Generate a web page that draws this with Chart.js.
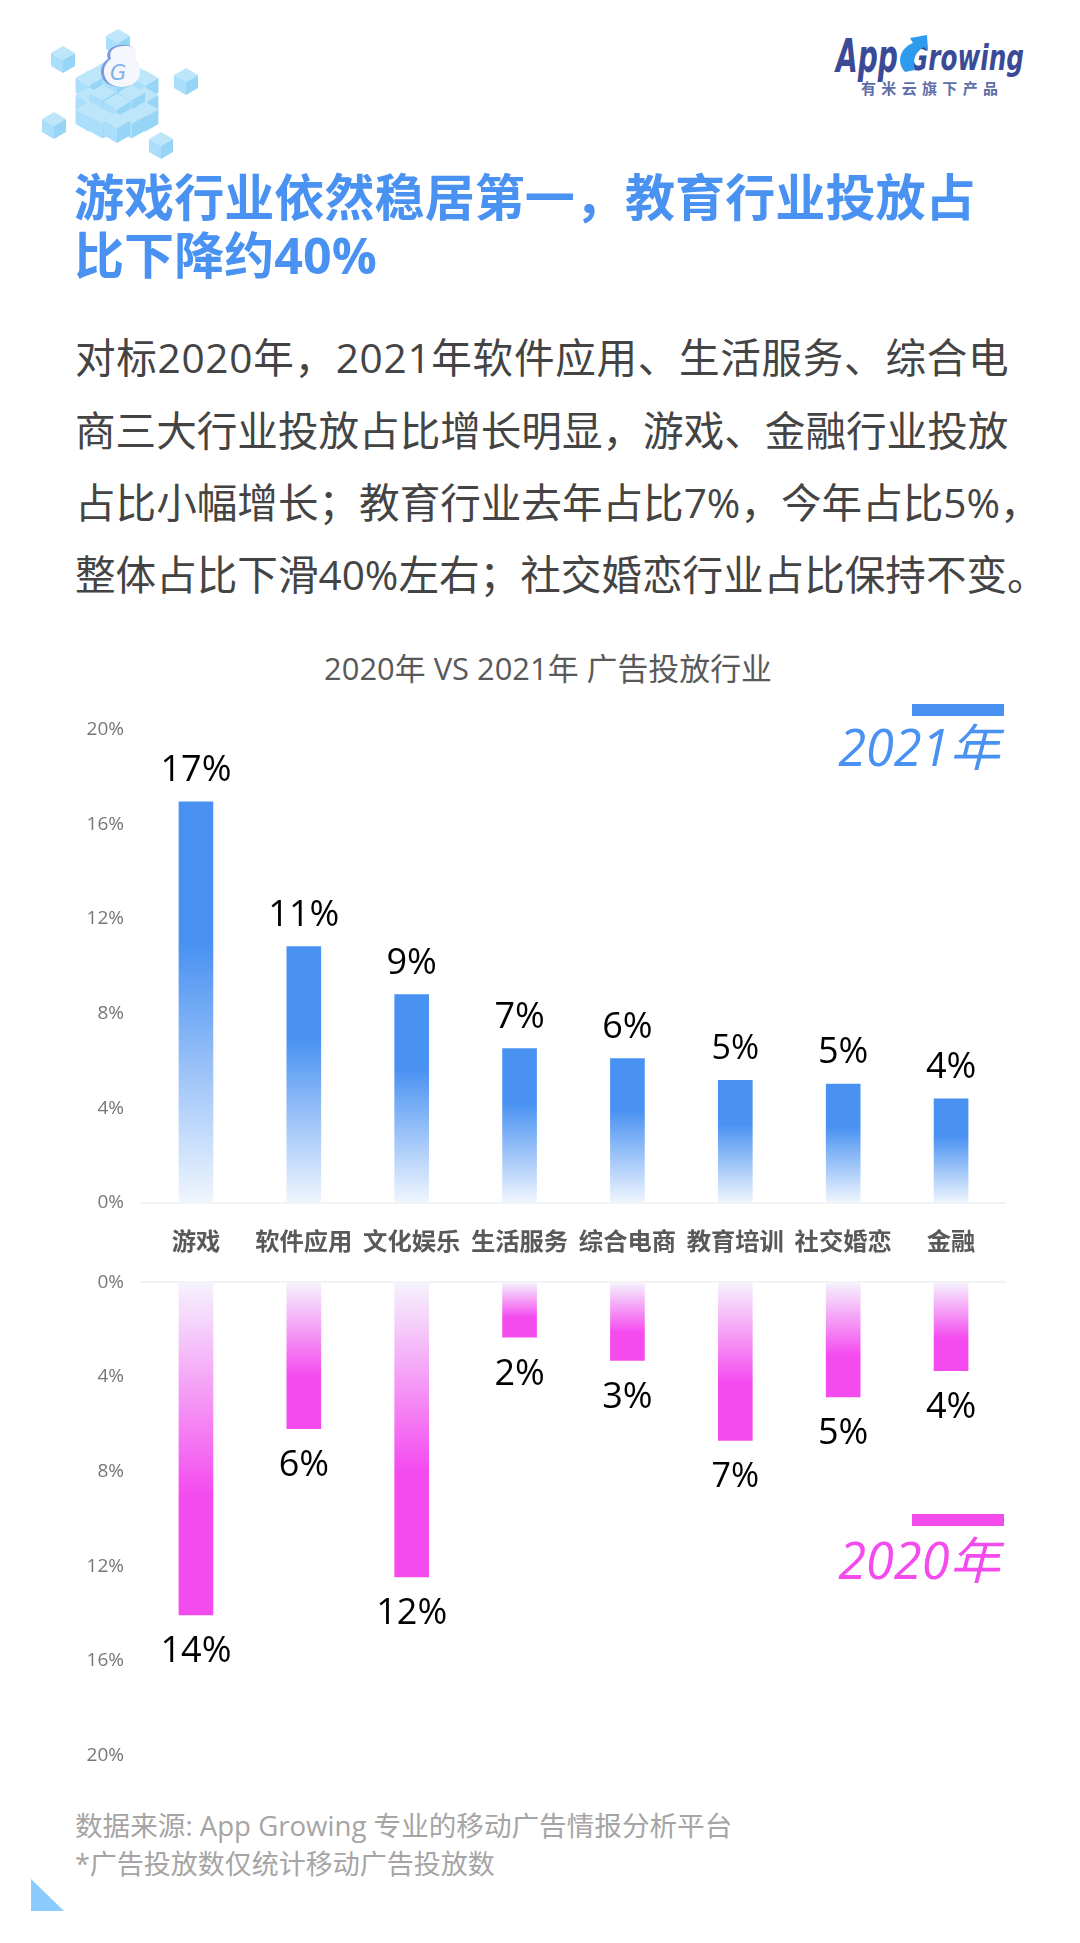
<!DOCTYPE html>
<html lang="zh">
<head>
<meta charset="utf-8">
<script src="https://cdn.jsdelivr.net/npm/chart.js@4"></script>
<style>
  html,body{margin:0;padding:0;background:#fff;}
  #page{position:relative;width:1080px;height:1943px;overflow:hidden;font-family:"Open Sans","Noto Sans CJK SC",sans-serif;}
  .t{position:absolute;white-space:nowrap;line-height:1;transform:translateY(-50%);}
  .title{left:74px;font-size:50.1px;font-weight:700;color:#4a92f2;}
  .body{left:75px;font-size:40.6px;color:#444;}
  .foot{left:75px;font-size:27.6px;color:#a6a4a4;}
  .ctitle{left:0;width:1096px;text-align:center;font-size:30.9px;color:#595959;}
  .leg{right:80px;font-size:50.5px;font-style:italic;}
  .bar{position:absolute;left:912px;width:92px;height:12px;}
  canvas{position:absolute;left:0;}
  svg{position:absolute;left:0;top:0;}
</style>
</head>
<body>
<div id="page">
  <svg width="1080" height="200" viewBox="0 0 1080 200">
    <defs>
      <g id="cube">
        <polygon points="0,-13 12,-6 0,1 -12,-6" fill="#bde6fb"/>
        <polygon points="-12,-6 0,1 0,14 -12,7" fill="#aadefa"/>
        <polygon points="12,-6 0,1 0,14 12,7" fill="#96d5f5"/>
      </g>
    </defs>
    <use href="#cube" x="118" y="42"/>
    <use href="#cube" x="63" y="59"/>
    <use href="#cube" x="186" y="81"/>
    <use href="#cube" x="54" y="125"/>
    <use href="#cube" x="161" y="145"/>
    <g transform="translate(117,96) scale(1.12)">
      <use href="#cube" x="0" y="-24"/>
      <use href="#cube" x="-12" y="-17"/><use href="#cube" x="12" y="-17"/>
      <use href="#cube" x="-25" y="-10"/><use href="#cube" x="25" y="-10"/>
      <use href="#cube" x="0" y="-10"/>
      <use href="#cube" x="-25" y="5"/><use href="#cube" x="25" y="5"/>
      <use href="#cube" x="-13" y="3"/><use href="#cube" x="13" y="3"/>
      <use href="#cube" x="0" y="11"/>
      <use href="#cube" x="-25" y="18"/><use href="#cube" x="25" y="18"/>
      <use href="#cube" x="-13" y="24"/><use href="#cube" x="13" y="24"/>
      <use href="#cube" x="0" y="28"/>
    </g>
    <path d="M122,45 c12,-2 16,8 12,15 c8,6 7,20 -4,25 c-10,4 -24,2 -28,-8 c-3,-8 1,-15 6,-18 c-3,-8 4,-14 14,-14z" fill="#7b9be0"/>
    <path d="M124,46 c11,-2 15,8 11,15 c8,6 7,19 -4,24 c-10,4 -22,2 -26,-8 c-3,-8 1,-15 6,-18 c-3,-8 3,-13 13,-13z" fill="#f6f6fd"/>
    <text x="110" y="80" font-family="DejaVu Sans" font-size="21" font-style="italic" fill="#7fb2e6">G</text>
    <g font-family="DejaVu Sans" font-style="italic" font-weight="700" fill="#3b4a96">
      <text x="836" y="72" font-size="46" textLength="62" lengthAdjust="spacingAndGlyphs">App</text>
      <text x="908" y="70" font-size="36" textLength="116" lengthAdjust="spacingAndGlyphs">Growing</text>
    </g>
    <path d="M905,72 c-9,-10 -5,-24 8,-29 l-3,-5 l17,-3 l1,16 l-4,-4 c-9,5 -12,14 -9,23 z" fill="#2f9bee"/>
    <text x="861" y="94" font-family="Noto Sans CJK SC" font-size="15" font-weight="700" fill="#5e6ea8" textLength="137">有米云旗下产品</text>
  </svg>

  <div class="t title" style="top:197px">游戏行业依然稳居第一，教育行业投放占</div>
  <div class="t title" style="top:255px">比下降约40%</div>
  <div class="t body" style="top:358px;letter-spacing:.7px">对标2020年，2021年软件应用、生活服务、综合电</div>
  <div class="t body" style="top:431px">商三大行业投放占比增长明显，游戏、金融行业投放</div>
  <div class="t body" style="top:503px">占比小幅增长；教育行业去年占比7%，今年占比5%，</div>
  <div class="t body" style="top:575px">整体占比下滑40%左右；社交婚恋行业占比保持不变。</div>
  <div class="t ctitle" style="top:668px">2020年 VS 2021年 广告投放行业</div>

  <canvas id="c2021" width="1080" height="562" style="top:700px;width:1080px;height:562px"></canvas>
  <canvas id="c2020" width="1080" height="532" style="top:1253px;width:1080px;height:532px"></canvas>

  <div class="bar" style="top:704px;background:#4a92f2"></div>
  <div class="t leg" style="top:747px;color:#4a92f2">2021年</div>
  <div class="bar" style="top:1514px;background:#f44bef"></div>
  <div class="t leg" style="top:1560px;color:#f44bef">2020年</div>

  <div class="t foot" style="top:1826px">数据来源: App Growing 专业的移动广告情报分析平台</div>
  <div class="t foot" style="top:1863px;font-size:27px">*广告投放数仅统计移动广告投放数</div>
  <svg width="1080" height="1943" style="pointer-events:none"><polygon points="31,1879 31,1911 64,1911" fill="#8ccbfd"/></svg>
</div>

<script>
const categories = ['游戏','软件应用','文化娱乐','生活服务','综合电商','教育培训','社交婚恋','金融'];
const values2021 = [16.94,10.83,8.8,6.52,6.1,5.18,5.02,4.4];
const values2020 = [14.05,6.18,12.45,2.32,3.3,6.68,4.84,3.73];
const labels2021 = ['17%','11%','9%','7%','6%','5%','5%','4%'];
const labels2020 = ['14%','6%','12%','2%','3%','7%','5%','4%'];
const labelSizes2021 = [36,36,36,36,36,34,36,36];
const labelSizes2020 = [36,36,36,36,36,34,36,36];
const yTicks = [0,4,8,12,16,20];

const FONT = '"Open Sans","Noto Sans CJK SC",sans-serif';

function fade(solid, faint){
  return function(ctx){
    const chart = ctx.chart, y = chart.scales.y;
    if(!y || ctx.type !== 'data') return solid;
    const a = y.getPixelForValue(ctx.raw), b = y.getPixelForValue(0);
    if(!isFinite(a) || !isFinite(b)) return solid;
    const g = chart.ctx.createLinearGradient(0, a, 0, b);
    g.addColorStop(0, solid);
    g.addColorStop(0.36, solid);
    g.addColorStop(1, faint);
    return g;
  };
}

function valueLabels(texts, sizes){
  return {
    id:'valueLabels',
    afterDatasetsDraw(chart){
      const c = chart.ctx, rev = chart.scales.y.options.reverse;
      chart.getDatasetMeta(0).data.forEach((bar,i)=>{
        c.save();
        c.font = sizes[i]+'px '+FONT;
        c.fillStyle = '#000';
        c.textAlign = 'center';
        c.textBaseline = 'middle';
        c.fillText(texts[i], bar.x, bar.y + (rev ? 37 : -31));
        c.restore();
      });
    }
  };
}

function build(id, values, texts, sizes, solid, faint, reverse){
  return new Chart(document.getElementById(id), {
    type:'bar',
    data:{labels:categories, datasets:[{data:values, backgroundColor:fade(solid,faint), barThickness:34}]},
    plugins:[valueLabels(texts,sizes)],
    options:{
      responsive:false, animation:false,
      layout:{padding: reverse ? {top:0,right:75,bottom:22,left:0} : {top:28,right:75,bottom:0,left:0}},
      plugins:{legend:{display:false},title:{display:false},tooltip:{enabled:false}},
      scales:{
        x:{
          position: reverse ? 'top' : 'bottom',
          grid:{display:false,drawTicks:false},
          border:{display:true,color:'#f3f3f3',width:2},
          ticks: reverse ? {display:false} : {font:{family:'"Noto Sans CJK SC",sans-serif',size:24.3,weight:'700'},color:'#595959',padding:23,maxRotation:0,autoSkip:false},
          afterFit(s){ s.height = reverse ? 28 : 59; }
        },
        y:{
          min:0,max:20,reverse:reverse,
          afterBuildTicks(s){ s.ticks = yTicks.map(v=>({value:v})); },
          grid:{display:false,drawTicks:false},
          border:{display:false},
          ticks:{font:{family:FONT,size:19},color:'#777',padding:18,callback:v=>v+'%'},
          afterFit(s){ s.width = 142; }
        }
      }
    }
  });
}

build('c2021', values2021, labels2021, labelSizes2021, '#4a92f2', '#f0f6fe', false);
build('c2020', values2020, labels2020, labelSizes2020, '#f44bef', '#f5f3fd', true);
</script>
</body>
</html>
